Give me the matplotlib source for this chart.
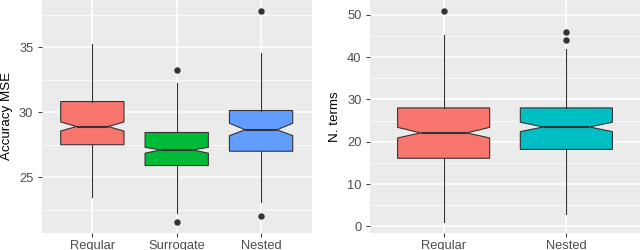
import matplotlib.pyplot as plt
from matplotlib.ticker import MultipleLocator

plt.rcParams['font.family'] = ['Liberation Sans', 'DejaVu Sans']

# left panel: accuracy MSE per method
acc_labels = ['Regular', 'Surrogate', 'Nested']
acc_colors = ['#F8766D', '#00BA38', '#619CFF']
acc_q1 = [27.5, 25.9, 27.0]
acc_med = [28.9, 27.1, 28.65]
acc_q3 = [30.82, 28.44, 30.13]
acc_lo = [23.5, 22.23, 23.08]
acc_hi = [35.23, 32.23, 34.58]
acc_cilo = [28.55, 26.85, 28.2]
acc_cihi = [29.25, 27.3, 29.15]
acc_out = [[], [33.25, 21.54], [37.82, 22.05]]

# right panel: number of terms
nt_labels = ['Regular', 'Nested']
nt_colors = ['#F8766D', '#00BFC4']
nt_q1 = [16.1, 18.2]
nt_med = [22.1, 23.5]
nt_q3 = [28.0, 28.0]
nt_lo = [1, 3]
nt_hi = [45.3, 42.0]
nt_cilo = [20.9, 22.4]
nt_cihi = [23.4, 24.6]
nt_out = [[51], [46, 44]]

fig = plt.figure(figsize=(6.4, 2.5), dpi=100)
ax1 = fig.add_axes([41.7 / 640, 0.069, 270 / 640, 0.931])
ax2 = fig.add_axes([370 / 640, 0.069, 270 / 640, 0.931])


def draw(ax, labels, colors, q1, med, q3, lo, hi, cilo, cihi, out):
    stats = []
    for i in range(len(labels)):
        stats.append(dict(q1=q1[i], med=med[i], q3=q3[i], whislo=lo[i], whishi=hi[i],
                          cilo=cilo[i], cihi=cihi[i], fliers=out[i], label=labels[i]))
    pos = list(range(1, len(labels) + 1))
    bp = ax.bxp(stats, positions=pos, widths=0.75, shownotches=True, patch_artist=True,
                showcaps=False,
                boxprops=dict(edgecolor='#333333', linewidth=0.8),
                whiskerprops=dict(color='#333333', linewidth=0.8),
                medianprops=dict(color='#333333', linewidth=1.5),
                flierprops=dict(marker='o', markerfacecolor='#333333', markeredgecolor='#333333',
                                markersize=3.6))
    for patch, c in zip(bp['boxes'], colors):
        patch.set_facecolor(c)
    for b in bp['boxes'] + bp['whiskers'] + bp['medians'] + bp['fliers']:
        b.set_zorder(3)
    ax.set_xlim(0.4, len(labels) + 0.6)
    ax.set_facecolor('#EBEBEB')
    for s in ax.spines.values():
        s.set_visible(False)
    ax.grid(True, which='major', color='white', linewidth=1.1, zorder=0)
    ax.grid(True, which='minor', axis='y', color='white', linewidth=0.55, zorder=0)
    ax.set_axisbelow(True)
    ax.tick_params(axis='both', which='major', length=2.6, width=0.7, color='#333333',
                   labelsize=9.3, labelcolor='#4D4D4D')
    ax.tick_params(axis='y', pad=3.4)
    ax.tick_params(axis='x', pad=2.6)
    ax.tick_params(axis='y', which='minor', length=0)


draw(ax1, acc_labels, acc_colors, acc_q1, acc_med, acc_q3, acc_lo, acc_hi,
     acc_cilo, acc_cihi, acc_out)
ax1.set_ylim(20.73, 38.63)
ax1.yaxis.set_major_locator(MultipleLocator(5))
ax1.yaxis.set_minor_locator(MultipleLocator(2.5))
ax1.set_ylabel('Accuracy MSE', fontsize=9.6, color='black', va='center')
ax1.yaxis.set_label_coords(-0.127, 0.5)

draw(ax2, nt_labels, nt_colors, nt_q1, nt_med, nt_q3, nt_lo, nt_hi,
     nt_cilo, nt_cihi, nt_out)
ax2.set_ylim(-1.5, 53.5)
ax2.yaxis.set_major_locator(MultipleLocator(10))
ax2.yaxis.set_minor_locator(MultipleLocator(5))
ax2.set_ylabel('N. terms', fontsize=9.6, color='black', va='center')
ax2.yaxis.set_label_coords(-0.13, 0.5)

fig.savefig('out.png', dpi=100)
